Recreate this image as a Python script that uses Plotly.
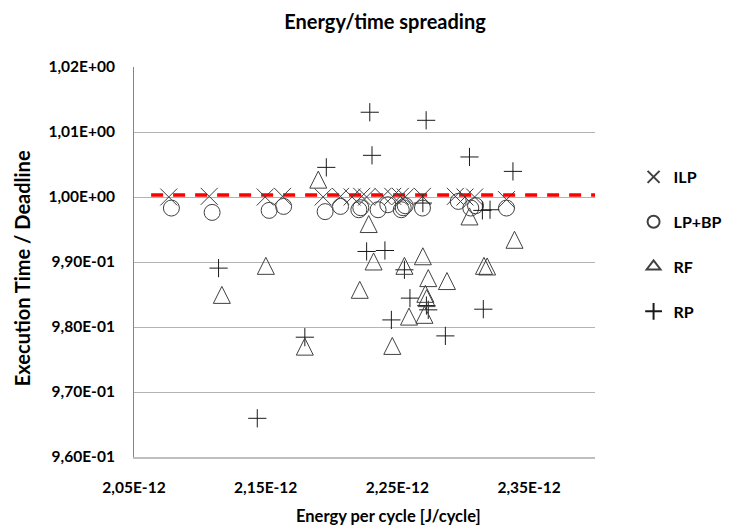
import plotly.graph_objects as go

# ---- data (x in units of 1e-12 J/cycle) ----
ilp_x = [2.0764, 2.1071, 2.1496, 2.1628, 2.1936, 2.2068, 2.2156, 2.2229, 2.2266,
         2.2390, 2.2464, 2.2522, 2.2559, 2.2690, 2.2940, 2.3013, 2.3086, 2.3328]
ilp_y = [1.0000, 1.0001, 1.0000, 1.0001, 1.0000, 1.0001, 1.0000, 1.0001, 1.0000,
         1.0001, 1.0001, 1.0001, 1.0000, 1.0001, 1.0001, 1.0000, 1.0000, 0.9996]

lpbp_x = [2.0784, 2.1093, 2.1526, 2.1636, 2.1951, 2.2068, 2.2207, 2.2222, 2.2353,
          2.2427, 2.2529, 2.2544, 2.2559, 2.2690, 2.2962, 2.3057, 2.3093, 2.3328]
lpbp_y = [0.99830, 0.99763, 0.99794, 0.99855, 0.99775, 0.99855, 0.99804, 0.99835, 0.99804,
          0.99881, 0.99804, 0.99835, 0.99866, 0.99830, 0.99932, 0.99830, 0.99866, 0.99830]

rf_x = [2.1899, 2.1501, 2.1167, 2.2214, 2.1797, 2.2282, 2.3047, 2.3389, 2.2319, 2.2693,
        2.2553, 2.3157, 2.3181, 2.2734, 2.2876, 2.2712, 2.2722, 2.2705, 2.2588, 2.2461]
rf_y = [1.00267, 0.98941, 0.98494, 0.98572, 0.97698, 0.99584, 0.99701, 0.99342, 0.99008, 0.99088,
        0.98941, 0.98941, 0.98931, 0.98752, 0.98707, 0.98510, 0.98444, 0.98187, 0.98160, 0.97709]

rp_x = [2.1960, 2.1142, 2.1797, 2.1436, 2.2290, 2.2718, 2.2307, 2.3047, 2.3377, 2.2693,
        2.3145, 2.3203, 2.2266, 2.2405, 2.2553, 2.2595, 2.2734, 2.2720, 2.2454, 2.2864, 2.3152]
rp_y = [1.00456, 0.98906, 0.97843, 0.96595, 1.01304, 1.01180, 1.00641, 1.00616, 1.00394, 0.99907,
        0.99794, 0.99804, 0.99162, 0.99177, 0.98880, 0.98444, 0.98264, 0.98330, 0.98109, 0.97863, 0.98274]

deadline_x = [2.063, 2.40]
deadline_y = [1.0003, 1.0003]

x_tickvals = [2.05, 2.15, 2.25, 2.35]
x_ticktext = ["2,05E-12", "2,15E-12", "2,25E-12", "2,35E-12"]
y_tickvals = [0.96, 0.97, 0.98, 0.99, 1.00, 1.01, 1.02]
y_ticktext = ["9,60E-01", "9,70E-01", "9,80E-01", "9,90E-01", "1,00E+00", "1,01E+00", "1,02E+00"]

E = 1e-12
FONT = "Lato"
MC = "#404040"
W, H = 740, 529
ML, MR, MT, MB = 134, 128, 67, 72
PLOT_H = H - MT - MB
Y0, Y1 = 0.96, 1.02
TRI = 17  # triangle marker size (px)
# arrow-up markers have their apex on the point; lift them by half their height
dy = (TRI / 2) * (Y1 - Y0) / PLOT_H

fig = go.Figure()

fig.add_trace(go.Scatter(
    x=[v * E for v in deadline_x], y=deadline_y, mode="lines",
    line=dict(color="#ff0000", width=3.5, dash="12px,10px"),
    showlegend=False, hoverinfo="skip"))

fig.add_trace(go.Scatter(
    x=[v * E for v in ilp_x], y=ilp_y, mode="markers", name="<b>ILP</b>", legendgroup="a",
    marker=dict(symbol="x-thin-open", size=17, color=MC, line=dict(color=MC, width=1))))
fig.add_trace(go.Scatter(
    x=[v * E for v in lpbp_x], y=lpbp_y, mode="markers", name="<b>LP+BP</b>", legendgroup="b",
    marker=dict(symbol="circle-open", size=16, color=MC, line=dict(color=MC, width=1))))
fig.add_trace(go.Scatter(
    x=[v * E for v in rf_x], y=rf_y, mode="markers", name="RF", yaxis="y2",
    showlegend=False, hoverinfo="x+y",
    marker=dict(symbol="arrow-up-open", size=TRI, color=MC, line=dict(color=MC, width=1))))
fig.add_trace(go.Scatter(
    x=[None], y=[None], mode="markers", name="<b>RF</b>", legendgroup="c",
    marker=dict(symbol="triangle-up-open", size=14, color=MC, line=dict(color=MC, width=1))))
fig.add_trace(go.Scatter(
    x=[v * E for v in rp_x], y=rp_y, mode="markers", name="<b>RP</b>", legendgroup="d",
    marker=dict(symbol="cross-thin-open", size=13, color="#1a1a1a", line=dict(color="#1a1a1a", width=1))))

fig.update_layout(
    width=W, height=H,
    margin=dict(l=ML, r=MR, t=MT, b=MB),
    paper_bgcolor="white", plot_bgcolor="white",
    font=dict(family=FONT, color="#000000"),
    title=dict(text="<b>Energy/time spreading</b>", x=385 / W, xanchor="center",
               y=1 - 22 / H, yanchor="middle", font=dict(size=20, family=FONT)),
    showlegend=True,
    legend=dict(x=(652 - ML) / (W - ML - MR), xanchor="left", y=(H - MB - 160) / PLOT_H, yanchor="top",
                font=dict(size=16, family=FONT, color="#000000"),
                tracegroupgap=21, itemsizing="constant", bgcolor="rgba(0,0,0,0)"),
    xaxis=dict(range=[2.05 * E, 2.40 * E], tickvals=[v * E for v in x_tickvals],
               ticktext=["<b>%s</b>" % t for t in x_ticktext],
               showgrid=False, zeroline=False, showline=True, linecolor="#bfbfbf", linewidth=1.5,
               ticks="", tickfont=dict(size=15.5, family=FONT), ticklabelstandoff=16),
    yaxis=dict(range=[Y0, Y1], tickvals=y_tickvals, ticktext=["<b>%s</b>" % t for t in y_ticktext],
               showgrid=True, gridcolor="#b3b3b3", gridwidth=1, zeroline=False,
               showline=True, linecolor="#868686", linewidth=1, ticks="",
               tickfont=dict(size=15.5, family=FONT), ticklabelstandoff=15),
    yaxis2=dict(range=[Y0 - dy, Y1 - dy], overlaying="y", visible=False, showgrid=False),
    annotations=[
        dict(text="<b>Execution Time / Deadline</b>", xref="paper", yref="paper",
             x=(18 - ML) / (W - ML - MR), y=(H - MB - 268) / PLOT_H, textangle=-90,
             showarrow=False, xanchor="center", yanchor="middle",
             font=dict(size=20, family=FONT, color="#000000")),
        dict(text="<b>Energy per cycle [J/cycle]</b>", xref="paper", yref="paper",
             x=(398 - ML) / (W - ML - MR), y=(H - MB - 516) / PLOT_H,
             showarrow=False, xanchor="center", yanchor="middle",
             font=dict(size=16.5, family=FONT, color="#000000")),
    ],
)

fig.write_html("out.html")
